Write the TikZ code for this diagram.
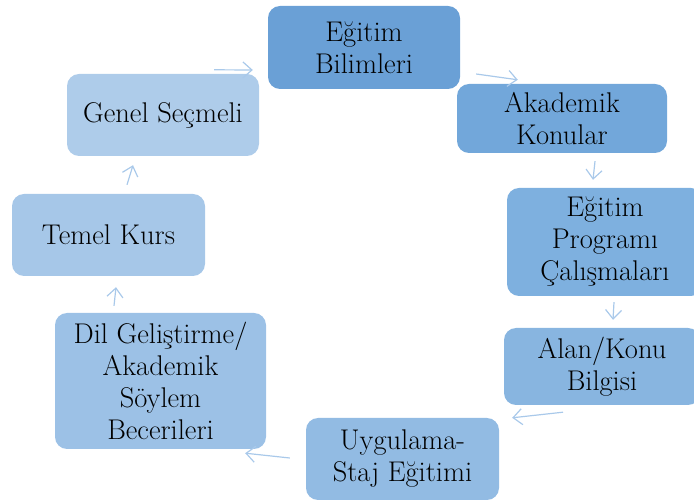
\documentclass[tikz,border=0pt]{standalone}
\usepackage{fontspec}
\setmainfont{Latin Modern Roman}
\usetikzlibrary{arrows.meta}
\definecolor{boxA}{HTML}{6AA0D6}
\definecolor{boxB}{HTML}{72A7DA}
\definecolor{boxC}{HTML}{7EB0DF}
\definecolor{boxD}{HTML}{88B5E0}
\definecolor{boxE}{HTML}{92BBE3}
\definecolor{boxF}{HTML}{9CC1E6}
\definecolor{boxG}{HTML}{A6C7E8}
\definecolor{boxH}{HTML}{AECCEA}
\definecolor{arrowblue}{HTML}{A9C9EA}
\begin{document}
\begin{tikzpicture}[x=1pt,y=-1pt,
	main node/.style={rectangle,rounded corners=12pt,inner sep=0pt,align=center,
		font=\fontsize{28.5}{32}\selectfont},
	cycle arrow/.style={draw=arrowblue,line width=1.2pt,-{Straight Barb[length=9pt,width=16pt]}}]
				\useasboundingbox (0,0) rectangle (694,502);
				\node[main node, fill=boxA, minimum width=192pt, minimum height=83pt] at (364, 47.5) (bil) {Eğitim\\Bilimleri};
				\node[main node, fill=boxB, minimum width=210pt, minimum height=69pt] at (562, 118.5) (ak) {Akademik\\Konular};
				\node[main node, fill=boxC, minimum width=196pt, minimum height=108pt] at (605, 242) (prog) {Eğitim\\Programı\\Çalışmaları};
				\node[main node, fill=boxD, minimum width=196pt, minimum height=77pt] at (602, 366.5) (alan) {Alan/Konu\\Bilgisi};
				\node[main node, fill=boxE, minimum width=193pt, minimum height=82pt] at (402.5, 459) (uyg) {Uygulama-\\Staj Eğitimi};
				\node[main node, fill=boxF, minimum width=211pt, minimum height=136pt] at (160.5, 381) (dil) {Dil Geliştirme/\\Akademik\\Söylem\\Becerileri};
				\node[main node, fill=boxG, minimum width=193pt, minimum height=82pt] at (108.5, 235) (temel) {Temel Kurs};
				\node[main node, fill=boxH, minimum width=192pt, minimum height=82pt] at (163, 115) (genel) {Genel Seçmeli};

				\path[every edge/.style={cycle arrow}]
					([xshift=-45pt,yshift=4pt]genel.north east) edge ([xshift=-15pt,yshift=-22.5pt]bil.west)
					([xshift=16pt,yshift=-26.5pt]bil.east) edge ([xshift=61pt,yshift=4pt]ak.north west)
					([xshift=33pt,yshift=-8pt]ak.south) edge ([xshift=-12pt,yshift=8pt]prog.north)
					([xshift=9pt,yshift=-6pt]prog.south) edge ([xshift=11pt,yshift=8pt]alan.north)
					([xshift=-39pt,yshift=-7pt]alan.south) edge ([xshift=13pt]uyg.north east)
					([xshift=-16pt,yshift=1pt]uyg.west) edge ([xshift=-21pt,yshift=-4pt]dil.south east)
					([xshift=-46.5pt,yshift=7pt]dil.north) edge ([xshift=7.5pt,yshift=-11pt]temel.south)
					([xshift=18.5pt,yshift=9pt]temel.north) edge ([xshift=-30pt,yshift=-9pt]genel.south)
					;
			\end{tikzpicture}
\end{document}
